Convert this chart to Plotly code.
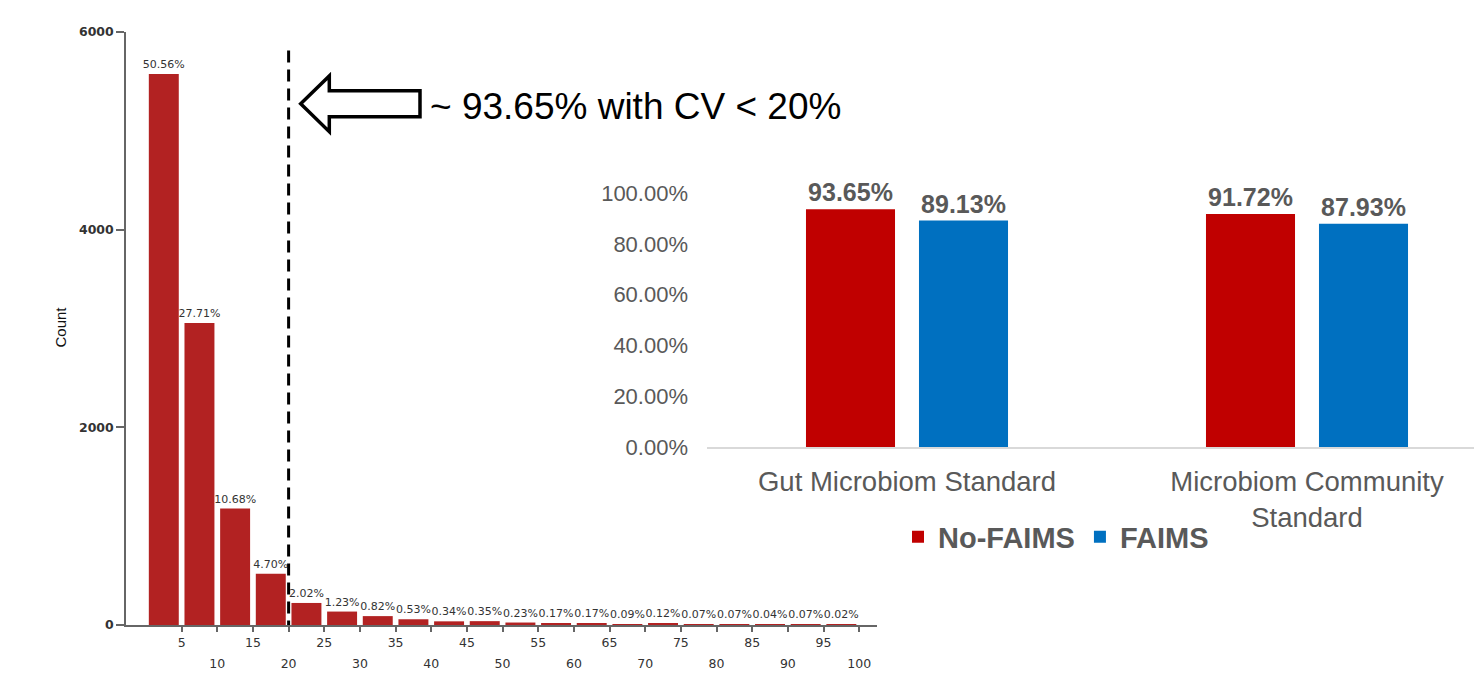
import plotly.graph_objects as go

# the page body adds an 8px margin, so the figure is sized to fit the window
OFF = 8
W, H = 1482 - OFF, 686 - OFF

# ---------------- data ----------------
cv_bin_centers = [2.5, 7.5, 12.5, 17.5, 22.5, 27.5, 32.5, 37.5, 42.5, 47.5,
                  52.5, 57.5, 62.5, 67.5, 72.5, 77.5, 82.5, 87.5, 92.5, 97.5]
cv_counts = [5575, 3055, 1178, 518, 223, 136, 90, 58, 37, 39,
             25, 19, 19, 10, 13, 8, 8, 4, 8, 2]
cv_pct_labels = ["50.56%", "27.71%", "10.68%", "4.70%", "2.02%", "1.23%", "0.82%",
                 "0.53%", "0.34%", "0.35%", "0.23%", "0.17%", "0.17%", "0.09%",
                 "0.12%", "0.07%", "0.07%", "0.04%", "0.07%", "0.02%"]
odd_ticks = [5, 15, 25, 35, 45, 55, 65, 75, 85, 95]
even_ticks = [10, 20, 30, 40, 50, 60, 70, 80, 90, 100]
count_ticks = [0, 2000, 4000, 6000]
cv_cutoff = 20

standards = ["Gut Microbiom Standard", "Microbiom Community<br>Standard"]
no_faims = [93.65, 91.72]
faims = [89.13, 87.93]
pct_ticks = [0, 20, 40, 60, 80, 100]
pct_tick_text = ["0.00%", "20.00%", "40.00%", "60.00%", "80.00%", "100.00%"]

# ---------------- helpers (window pixel -> paper) ----------------
def px(x):
    return (x - OFF) / W

def py(y):
    return 1 - (y - OFF) / H

fig = go.Figure()

fig.add_trace(go.Bar(
    x=cv_bin_centers, y=cv_counts, width=4.2,
    marker=dict(color="#B22222", line=dict(width=0)),
    text=cv_pct_labels, textposition="outside", constraintext="none",
    cliponaxis=False,
    textfont=dict(family="DejaVu Sans", size=11, color="#333333"),
    xaxis="x", yaxis="y", showlegend=False, hoverinfo="x+y",
))
# invisible helper trace so the second (staggered-label) x axis is drawn
fig.add_trace(go.Scatter(
    x=[even_ticks[0]], y=[0], mode="markers", marker=dict(opacity=0),
    xaxis="x3", yaxis="y", showlegend=False, hoverinfo="skip",
))

gray = "#595959"
fig.add_trace(go.Bar(
    x=standards, y=no_faims, name="No-FAIMS",
    marker=dict(color="#C00000", line=dict(width=0)),
    texttemplate="%{y:.2f}%", textposition="outside", cliponaxis=False,
    textfont=dict(family="Liberation Sans, Arial", size=25, color=gray, weight="bold"),
    xaxis="x2", yaxis="y2",
))
fig.add_trace(go.Bar(
    x=standards, y=faims, name="FAIMS",
    marker=dict(color="#0070C0", line=dict(width=0)),
    texttemplate="%{y:.2f}%", textposition="outside", cliponaxis=False,
    textfont=dict(family="Liberation Sans, Arial", size=25, color=gray, weight="bold"),
    xaxis="x2", yaxis="y2",
))

axis_gray = "#666666"
hist_dom_x = [px(126), px(877)]
fig.update_layout(
    width=W, height=H,
    margin=dict(l=0, r=0, t=0, b=0, autoexpand=False),
    paper_bgcolor="white", plot_bgcolor="white",
    barmode="group", bargap=0.435, bargroupgap=0.212,
    xaxis=dict(
        domain=hist_dom_x, range=[-2.8, 102.5], anchor="y", automargin=False,
        tickmode="array", tickvals=odd_ticks + even_ticks,
        ticktext=[str(v) for v in odd_ticks] + ["" for _ in even_ticks],
        ticks="outside", ticklen=5, tickwidth=1.5, tickcolor=axis_gray,
        showline=True, linecolor=axis_gray, linewidth=1.5,
        showgrid=False, zeroline=False,
        tickfont=dict(family="DejaVu Sans", size=12.5, color="#333333"),
    ),
    xaxis3=dict(
        domain=hist_dom_x, range=[-2.8, 102.5], anchor="y", overlaying="x",
        side="bottom", automargin=False,
        tickmode="array", tickvals=even_ticks,
        ticktext=[str(v) for v in even_ticks],
        ticks="", showline=False, showgrid=False, zeroline=False,
        ticklabelstandoff=29,
        tickfont=dict(family="DejaVu Sans", size=12.5, color="#333333"),
    ),
    yaxis=dict(
        domain=[py(625), py(32)], range=[0, 6000], anchor="x", automargin=False,
        tickmode="array", tickvals=count_ticks,
        ticks="outside", ticklen=8, tickwidth=1.5, tickcolor=axis_gray,
        showline=True, linecolor=axis_gray, linewidth=1.5,
        showgrid=False, zeroline=False,
        tickfont=dict(family="DejaVu Sans", size=12.5, color="#333333", weight="bold"),
    ),
    xaxis2=dict(
        domain=[px(707), 1.0], range=[-0.5, 1.4375], anchor="y2", automargin=False,
        type="category",
        showline=True, linecolor="#D9D9D9", linewidth=2,
        showgrid=False, zeroline=False, ticks="",
        ticklabelstandoff=9,
        tickfont=dict(family="Liberation Sans, Arial", size=27.5, color=gray),
    ),
    yaxis2=dict(
        domain=[py(447), py(193)], range=[0, 100], anchor="x2", automargin=False,
        tickmode="array", tickvals=pct_ticks, ticktext=pct_tick_text,
        showline=False, showgrid=False, zeroline=False, ticks="",
        ticklabelstandoff=18,
        tickfont=dict(family="Liberation Sans, Arial", size=22, color=gray),
    ),
    legend=dict(
        orientation="h", x=px(898), y=py(537), xanchor="left", yanchor="middle",
        font=dict(family="Liberation Sans, Arial", size=29, color=gray, weight="bold"),
        bgcolor="rgba(0,0,0,0)", itemclick=False,
    ),
)

# y-axis title "Count"
fig.add_annotation(
    text="Count", x=px(49), y=py(327), xref="paper", yref="paper",
    textangle=-90, showarrow=False,
    font=dict(family="Liberation Sans, Arial", size=15, color="#111111"),
)

# dashed cutoff line at CV = 20
fig.add_shape(
    type="line", xref="x", yref="y", x0=cv_cutoff, x1=cv_cutoff, y0=-75, y1=5860,
    line=dict(color="black", width=3, dash="12px,7px"), layer="above",
)

# hollow arrow pointing left
arrow_pts = [(300.7, 103.7), (329.3, 76), (329.3, 90.7), (420, 90.7),
             (420, 116.7), (329.3, 116.7), (329.3, 131.7)]
path = "M " + " L ".join(f"{px(x):.5f},{py(y):.5f}" for x, y in arrow_pts) + " Z"
fig.add_shape(
    type="path", path=path, xref="paper", yref="paper",
    line=dict(color="black", width=3.5), fillcolor="white", layer="above",
)

fig.add_annotation(
    text="~ 93.65% with CV < 20%", x=px(428), y=py(106), xref="paper", yref="paper",
    xanchor="left", yanchor="middle", showarrow=False,
    font=dict(family="Liberation Sans, Arial", size=37, color="black"),
)

fig.write_html("out.html")
